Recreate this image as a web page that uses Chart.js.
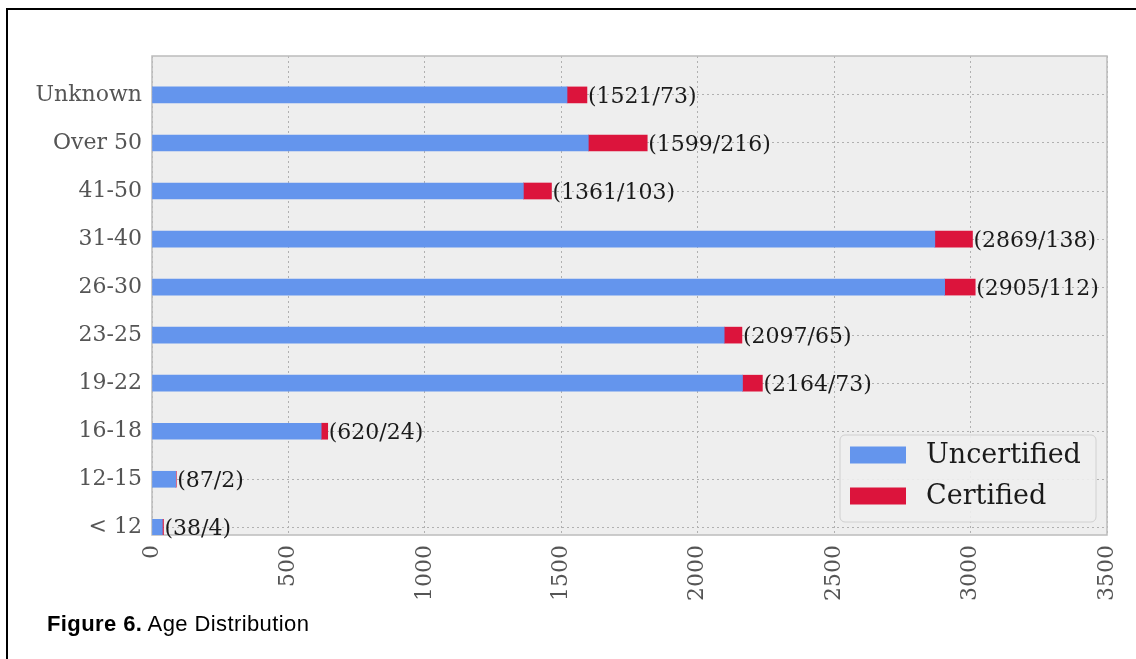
<!DOCTYPE html>
<html>
<head>
<meta charset="utf-8">
<script src="https://cdn.jsdelivr.net/npm/chart.js@4/dist/chart.umd.min.js"></script>
<style>
  body { margin: 0; background: #fff; }
  #wrap { position: relative; width: 1136px; height: 659px; overflow: hidden; }
  #frame { position: absolute; left: 6px; top: 8px; right: -10px; bottom: -10px;
           border-top: 2px solid #000; border-left: 2px solid #000; }
  #box { position: absolute; left: 0; top: 0; width: 1136px; height: 659px; }
  #caption { position: absolute; left: 47px; top: 611px; font: 22px "Liberation Sans", Arial, sans-serif;
             letter-spacing: 0.4px; line-height: 25px; color: #000; }
</style>
</head>
<body>
<div id="wrap">
  <div id="frame"></div>
  <div id="box"><canvas id="graficoEdades"></canvas></div>
  <div id="caption"><b>Figure 6.</b> Age Distribution</div>
</div>
<script>
// datos (de abajo hacia arriba)
const categorias = ['< 12', '12-15', '16-18', '19-22', '23-25', '26-30', '31-40', '41-50', 'Over 50', 'Unknown'];
const noCertificados = [38, 87, 620, 2164, 2097, 2905, 2869, 1361, 1599, 1521];
const certificados = [4, 2, 24, 73, 65, 112, 138, 103, 216, 73];
const ticksX = [0, 500, 1000, 1500, 2000, 2500, 3000, 3500];

const serif = '"DejaVu Serif", serif';

// fondo gris y marco del area de grafico
const fondoPlugin = {
    id: 'fondo',
    beforeDraw(chart) {
        const a = chart.chartArea, ctx = chart.ctx;
        ctx.save();
        ctx.fillStyle = '#eeeeee';
        ctx.fillRect(a.left, a.top, a.right - a.left, a.bottom - a.top);
        ctx.restore();
    },
    beforeDatasetsDraw(chart) {
        const a = chart.chartArea, ctx = chart.ctx;
        ctx.save();
        ctx.strokeStyle = '#bcbcbc';
        ctx.lineWidth = 1.5;
        ctx.strokeRect(a.left, a.top, a.right - a.left, a.bottom - a.top);
        ctx.restore();
    }
};

// etiquetas (no certificados/certificados) al final de cada barra
const etiquetasPlugin = {
    id: 'etiquetas',
    afterDatasetsDraw(chart) {
        const ctx = chart.ctx;
        const meta = chart.getDatasetMeta(1);
        ctx.save();
        ctx.font = '22px ' + serif;
        ctx.fillStyle = '#1a1a1a';
        ctx.textAlign = 'left';
        ctx.textBaseline = 'middle';
        meta.data.forEach((bar, i) => {
            ctx.fillText('(' + noCertificados[i] + '/' + certificados[i] + ')', bar.x + 1, bar.y + 2);
        });
        ctx.restore();
    }
};

// leyenda dentro del grafico, abajo a la derecha
const leyendaPlugin = {
    id: 'leyenda',
    afterDraw(chart) {
        const a = chart.chartArea, ctx = chart.ctx;
        const x = a.right - 267, y = a.bottom - 100, w = 256, h = 87;
        ctx.save();
        ctx.fillStyle = 'rgba(238,238,238,0.9)';
        ctx.strokeStyle = '#d0d0d0';
        ctx.lineWidth = 1;
        ctx.beginPath();
        ctx.roundRect(x, y, w, h, 5);
        ctx.fill();
        ctx.stroke();
        ctx.font = '27px ' + serif;
        ctx.textBaseline = 'middle';
        chart.data.datasets.forEach((ds, i) => {
            const cy = y + 20 + i * 41;
            ctx.fillStyle = ds.backgroundColor;
            ctx.fillRect(x + 10, cy - 8.5, 56, 17);
            ctx.fillStyle = '#1a1a1a';
            ctx.fillText(ds.label, x + 86, cy + 1);
        });
        ctx.restore();
    }
};

document.addEventListener('DOMContentLoaded', function(){
    const ctx = document.getElementById('graficoEdades').getContext('2d');
    new Chart(ctx, {
        type: 'bar',
        data: {
            datasets: [
                {
                    label: 'Uncertified',
                    data: noCertificados.map((v, i) => ({x: v, y: i})),
                    backgroundColor: '#6495ed',
                    barThickness: 16
                },
                {
                    label: 'Certified',
                    data: certificados.map((v, i) => ({x: v, y: i})),
                    backgroundColor: '#dc143c',
                    barThickness: 16
                }
            ]
        },
        plugins: [fondoPlugin, etiquetasPlugin, leyendaPlugin],
        options: {
            indexAxis: 'y',
            responsive: true,
            maintainAspectRatio: false,
            animation: false,
            layout: { padding: { left: 0, top: 56, right: 29, bottom: 0 } },
            plugins: {
                legend: { display: false },
                tooltip: { enabled: false }
            },
            scales: {
                x: {
                    type: 'linear',
                    stacked: true,
                    min: 0,
                    max: 3500,
                    afterBuildTicks: s => { s.ticks = ticksX.map(v => ({value: v})); },
                    afterFit: s => { s.height = 124; s.paddingLeft = 0; s.paddingRight = 0; },
                    grid: { color: '#b0b0b0', lineWidth: 1, drawTicks: false },
                    border: { display: false, dash: [2, 3] },
                    ticks: {
                        minRotation: 90,
                        maxRotation: 90,
                        padding: 10,
                        color: '#555555',
                        font: { family: serif, size: 22 },
                        callback: v => String(v)
                    }
                },
                y: {
                    type: 'linear',
                    stacked: true,
                    offset: false,
                    min: -0.16,
                    max: 9.81,
                    afterBuildTicks: s => { s.ticks = categorias.map((c, i) => ({value: i})); },
                    afterFit: s => { s.width = 152; s.paddingTop = 0; s.paddingBottom = 0; },
                    grid: { color: '#b0b0b0', lineWidth: 1, drawTicks: false, offset: false },
                    border: { display: false, dash: [2, 3] },
                    ticks: {
                        padding: 10,
                        color: '#555555',
                        font: { family: serif, size: 22 },
                        callback: v => categorias[v]
                    }
                }
            }
        }
    });
});
</script>
</body>
</html>
